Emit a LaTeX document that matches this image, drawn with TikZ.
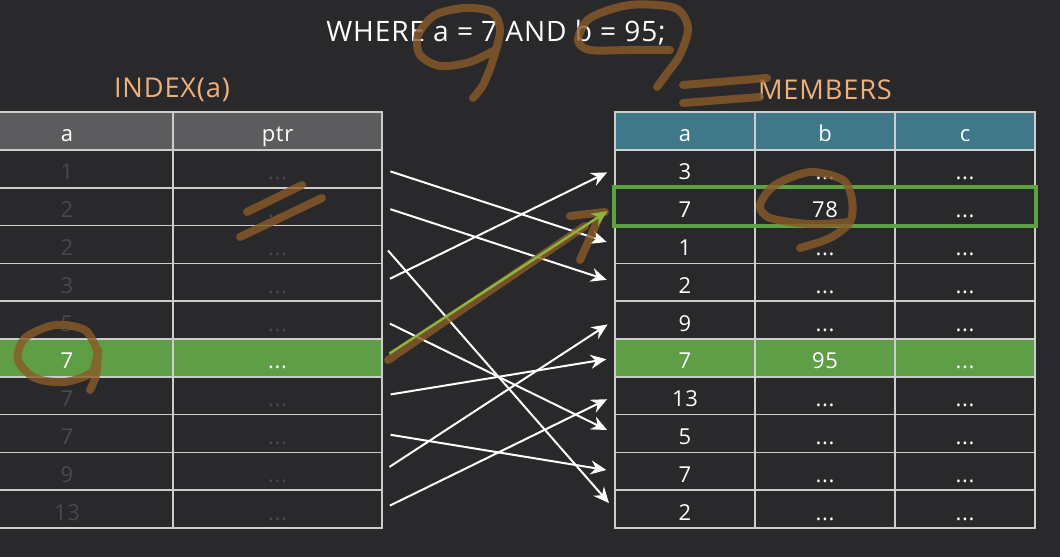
\documentclass[tikz,border=0pt]{standalone}
\usepackage{fontspec}
\setmainfont{Open Sans}[LetterSpace=3]
\usepackage{tikz}
\usepackage{xcolor}
\usetikzlibrary{arrows.meta,fit}

\definecolor{bgdark}{HTML}{29282B}
\definecolor{grid}{HTML}{CDCDCD}
\definecolor{dim}{HTML}{4A494C}
\definecolor{headgray}{HTML}{5C5B5E}
\definecolor{headteal}{HTML}{3F7889}
\definecolor{hit}{HTML}{5F9D46}
\definecolor{pickgreen}{HTML}{5AA33E}
\definecolor{arrowgreen}{HTML}{8DB43D}
\definecolor{peach}{HTML}{EEB17B}
\definecolor{scribble}{HTML}{8A5A28}
\newcommand{\dd}{...}

\begin{document}
\begin{tikzpicture}[x=0.02cm,y=-0.02cm,
  cell/.style={draw=grid, line width=0.03cm, inner sep=0pt, minimum height=0.756cm,
    text height=12.5pt, text depth=0pt, text=white, font=\fontsize{12.5}{14}\selectfont},
  faded/.style={text=dim},
  hl6/.style={fill=hit, text=white},
  title/.style={text=peach, font=\fontsize{15.5}{18}\selectfont},
  ptr/.style={draw=white, line width=0.04cm, -{Stealth[length=9pt,width=8pt,inset=3pt]},
    shorten <=0.16cm, shorten >=0.16cm},
  hitptr/.style={ptr, draw=arrowgreen, line width=0.05cm},
  pickbox/.style={draw=pickgreen, line width=0.08cm, inner sep=0pt},
  ink/.style={draw=scribble, line width=0.16cm, line cap=round, line join=round, opacity=0.8}]
\useasboundingbox (0,0) rectangle (1060,557);
\fill[bgdark] (0,0) rectangle (1060,557);

\node[text=white, font=\fontsize{16}{18}\selectfont] (query) at (496,33) {WHERE a = 7 AND b = 95;};
\node[title] (idxtitle) at (172,90) {INDEX(a)};
\node[title] (memtitle) at (825,90) {MEMBERS};

\node[cell, fill=headgray, minimum width=4.24cm] (lah) at (67,131) {a};
\node[cell, fill=headgray, minimum width=4.18cm] (lph) at (277.5,131) {ptr};
\foreach \v [count=\i] in {1,2,2,3,5,7,7,7,9,13} {
  \node[cell, faded, hl\i/.try, minimum width=4.24cm] (la\i) at (67,{150+37.8*(\i-0.5)}) {\v};
  \node[cell, faded, hl\i/.try, minimum width=4.18cm] (lp\i) at (277.5,{150+37.8*(\i-0.5)}) {\dd};
}

\node[cell, fill=headteal, minimum width=2.8cm] (rah) at (685,131) {a};
\node[cell, fill=headteal, minimum width=2.8cm] (rbh) at (825,131) {b};
\node[cell, fill=headteal, minimum width=2.8cm] (rch) at (965,131) {c};
\foreach \va/\vb [count=\i] in {3/\dd,7/78,1/\dd,2/\dd,9/\dd,7/95,13/\dd,5/\dd,7/\dd,2/\dd} {
  \node[cell, hl\i/.try, minimum width=2.8cm] (ra\i) at (685,{150+37.8*(\i-0.5)}) {\va};
  \node[cell, hl\i/.try, minimum width=2.8cm] (rb\i) at (825,{150+37.8*(\i-0.5)}) {\vb};
  \node[cell, hl\i/.try, minimum width=2.8cm] (rc\i) at (965,{150+37.8*(\i-0.5)}) {\dd};
}
\node[pickbox, fit=(ra2)(rc2)] (pick) {};

\foreach \s/\t in {1/3,2/4,3/10,4/1,5/8,7/6,8/9,9/5,10/7}
  \draw[ptr] (lp\s.east) -- (ra\t.west);

\draw[ink] (388,360) -- (585,226);
\draw[ink] (570,216) -- (605,212);
\draw[ink] (580,260) -- (598,220);
\draw[hitptr] (lp6.east) -- (ra2.west);

\draw[ink] plot[smooth] coordinates {(495,50) (470,62) (440,66) (420,55) (418,35) (435,15) (465,8) (492,12) (500,30) (493,60) (483,85) (473,98)};
\draw[ink] plot[smooth] coordinates {(670,50) (630,50) (590,50) (578,40) (590,18) (630,5) (675,8) (688,28) (680,55) (668,72) (657,87)};
\draw[ink] (683,85) -- (767,78);
\draw[ink] (683,103) -- (760,97);
\draw[ink] (247,212) -- (302,185);
\draw[ink] (240,237) -- (322,198);
\draw[ink] plot[smooth] coordinates {(97,350) (85,330) (55,325) (25,338) (18,360) (35,378) (65,382) (92,372) (98,350) (96,375) (90,390)};
\draw[ink] plot[smooth] coordinates {(850,222) (810,224) (770,218) (760,205) (775,185) (810,172) (843,180) (852,200) (850,222) (830,238) (800,248)};
\end{tikzpicture}
\end{document}
